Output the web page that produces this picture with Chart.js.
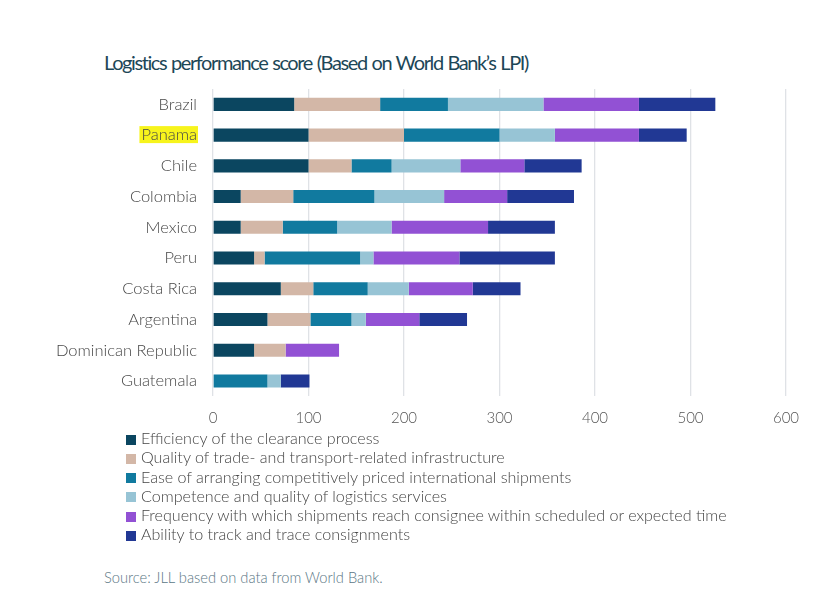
<!DOCTYPE html>
<html lang="en">
<head>
  <meta charset="UTF-8" />
  <title>Logistics performance score</title>
  <script src="https://cdn.jsdelivr.net/npm/chart.js"></script>
  <style>
    body { margin: 0; background: #fff; width: 835px; height: 602px; position: relative; overflow: hidden; font-family: "Lato", "Open Sans", sans-serif; }
    #title { position: absolute; left: 104px; top: 50px; font-size: 20px; color: #1d4757; font-weight: 400; letter-spacing: -1.4px; word-spacing: 1px; }
    #wrap { position: absolute; left: 0; top: 0; width: 835px; height: 440px; }
    #legend { position: absolute; left: 126px; top: 428px; font-size: 16.1px; color: #454545; font-weight: 300; }
    #legend div { height: 19.3px; line-height: 19.3px; white-space: nowrap; }
    #legend span { display: inline-block; width: 10px; height: 10px; margin-right: 5px; vertical-align: -0.5px; }
    #source { position: absolute; left: 104px; top: 568px; font-size: 14.7px; color: #5b7785; font-weight: 300; }
  </style>
</head>
<body>
  <div id="title">Logistics performance score (Based on World Bank’s LPI)</div>
  <div id="wrap"><canvas id="lpiChart"></canvas></div>
  <div id="legend"></div>
  <div id="source">Source: JLL based on data from World Bank.</div>

  <script>
    const countries = ['Brazil', 'Panama', 'Chile', 'Colombia', 'Mexico', 'Peru', 'Costa Rica', 'Argentina', 'Dominican Republic', 'Guatemala'];

    const efficiency    = [85, 100, 100, 29, 29, 43, 71, 57, 43, 0];
    const infrastructure = [90, 100, 45, 55, 44, 11, 34, 45, 33, 0];
    const shipments     = [71, 100, 42, 85, 57, 100, 57, 43, 0, 57];
    const competence    = [100, 58, 72, 73, 57, 14, 43, 15, 0, 14];
    const timeliness    = [100, 88, 67, 66, 101, 90, 67, 56, 56, 0];
    const tracking      = [80, 50, 60, 70, 70, 100, 50, 50, 0, 30];

    const xTicks = [0, 100, 200, 300, 400, 500, 600];
    const highlight = 'Panama';

    const series = [
      { label: 'Efficiency of the clearance process', data: efficiency, color: '#0b4660' },
      { label: 'Quality of trade- and transport-related infrastructure', data: infrastructure, color: '#d3b7a7' },
      { label: 'Ease of arranging competitively priced international shipments', data: shipments, color: '#117a9f' },
      { label: 'Competence and quality of logistics services', data: competence, color: '#97c4d5' },
      { label: 'Frequency with which shipments reach consignee within scheduled or expected time', data: timeliness, color: '#9251d4' },
      { label: 'Ability to track and trace consignments', data: tracking, color: '#213894' }
    ];

    // fundo amarelo atrás do rótulo destacado
    const highlightPlugin = {
      id: 'highlightLabel',
      beforeDraw(chart) {
        const y = chart.scales.y;
        const idx = countries.indexOf(highlight);
        if (idx < 0) return;
        const ctx = chart.ctx;
        ctx.save();
        ctx.font = Chart.helpers.toFont(y.options.ticks.font).string;
        const w = ctx.measureText(highlight).width;
        const right = y.right - y.options.ticks.padding;
        const cy = y.getPixelForValue(idx);
        ctx.fillStyle = '#f7f41c';
        ctx.fillRect(right - w - 2, cy - 9, w + 3, 17);
        ctx.restore();
      }
    };

    const chart = new Chart(document.getElementById('lpiChart').getContext('2d'), {
      type: 'bar',
      data: {
        labels: countries,
        datasets: series.map(s => ({
          label: s.label,
          data: s.data,
          backgroundColor: s.color,
          barPercentage: 0.85,
          categoryPercentage: 0.5
        }))
      },
      options: {
        indexAxis: 'y',
        responsive: true,
        maintainAspectRatio: false,
        animation: false,
        layout: { padding: { top: 89, right: 49, left: 0, bottom: 0 } },
        plugins: {
          legend: { display: false },
          tooltip: { enabled: false }
        },
        scales: {
          x: {
            stacked: true,
            min: 0,
            max: 600,
            afterFit(scale) { scale.height = 43.6; },
            afterBuildTicks(scale) { scale.ticks = xTicks.map(v => ({ value: v })); },
            grid: { color: '#dfe2e6', lineWidth: 1.3, drawTicks: false },
            border: { display: false },
            ticks: { padding: 13, color: '#555', font: { family: 'Lato', size: 15, weight: '300' } }
          },
          y: {
            stacked: true,
            afterFit(scale) { scale.width = 213; },
            grid: { display: false, drawTicks: false },
            border: { display: false },
            ticks: { padding: 16, color: '#474747', font: { family: 'Lato', size: 16.5, weight: '300' } }
          }
        }
      },
      plugins: [highlightPlugin]
    });

    // legenda vertical em HTML
    const legend = document.getElementById('legend');
    series.forEach(s => {
      const row = document.createElement('div');
      row.innerHTML = `<span style="background:${s.color}"></span>${s.label}`;
      legend.appendChild(row);
    });
  </script>
</body>
</html>
